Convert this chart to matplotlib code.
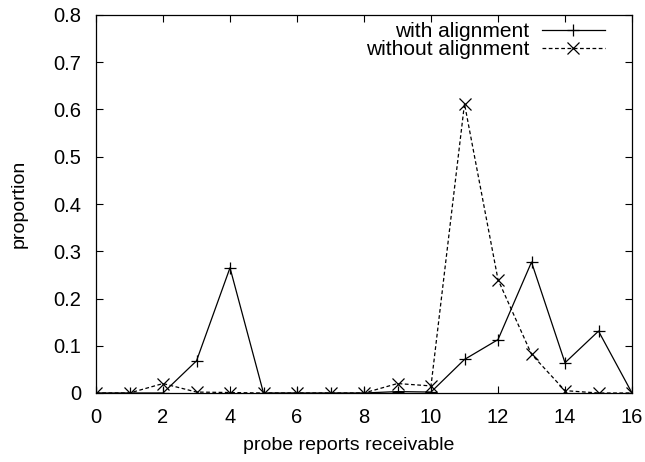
import numpy as np
import matplotlib.pyplot as plt

plt.rcParams['font.family'] = ['Liberation Sans', 'DejaVu Sans']

reports = list(range(17))
with_align = [0, 0, 0, 0.068, 0.265, 0, 0, 0, 0, 0.003, 0.002, 0.071, 0.113, 0.277, 0.064, 0.131, 0]
without_align = [0, 0, 0.02, 0.002, 0.001, 0, 0, 0, 0, 0.02, 0.015, 0.612, 0.24, 0.082, 0.005, 0, 0]

fig = plt.figure(figsize=(6.45, 4.62), dpi=100)
ax = fig.add_axes([96/645, 1-393/462, 536/645, 378/462])

ax.plot(reports, with_align, color='black', lw=0.9, marker='+', ms=9, mew=0.9,
        label='with alignment')
ax.plot(reports, without_align, color='black', lw=0.9, ls=(0, (3, 2)), marker='x', ms=9, mew=0.9,
        label='without alignment')

ax.set_xlim(0, 16)
ax.set_ylim(0, 0.8)
ax.set_xticks(range(0, 17, 2))
ax.set_yticks(np.arange(0, 0.81, 0.1))
ax.set_yticklabels(['0', '0.1', '0.2', '0.3', '0.4', '0.5', '0.6', '0.7', '0.8'])
ax.tick_params(direction='in', top=True, right=True, labelsize=14.5, length=5, width=0.8)
ax.tick_params(axis='x', pad=10.8)
ax.tick_params(axis='y', pad=10.5)
for s in ax.spines.values():
    s.set_linewidth(0.9)

ax.set_xlabel('probe reports receivable', fontsize=14)
ax.xaxis.set_label_coords(0.472, -0.116)
ax.set_ylabel('proportion', fontsize=14)
ax.yaxis.set_label_coords(-0.127, 0.5)

ax.legend(loc='upper right', bbox_to_anchor=(613/645, 1-13.6/462), bbox_transform=fig.transFigure,
          borderaxespad=0, frameon=False, markerfirst=False, fontsize=15,
          handlelength=3.0, labelspacing=-0.05, handletextpad=0.63)

fig.savefig('out.png', dpi=100)
